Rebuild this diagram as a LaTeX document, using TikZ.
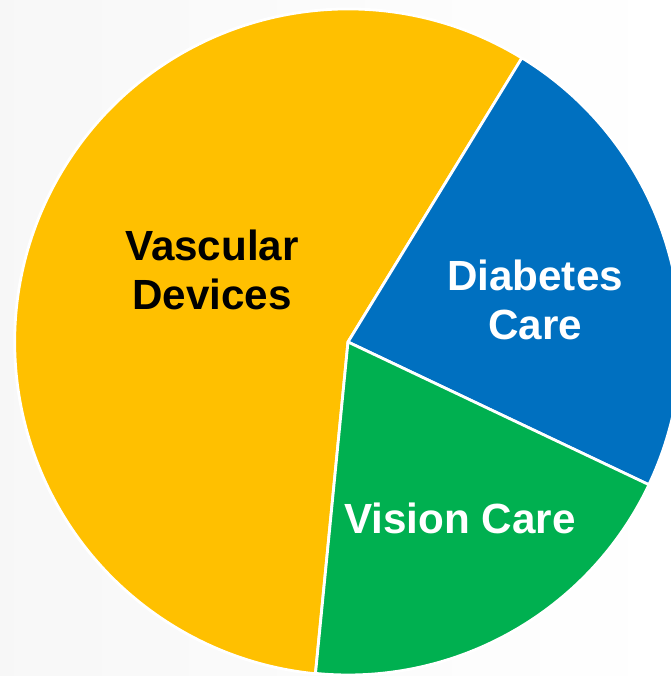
\documentclass[tikz,border=0pt]{standalone}
\usepackage{fontspec}
\setmainfont{Liberation Sans}
\definecolor{vascyellow}{HTML}{FFC000}
\definecolor{diabblue}{HTML}{0070C0}
\definecolor{visgreen}{HTML}{00B050}
\tikzset{
  slice/.style={draw=white, line width=0.8pt, line join=round},
  lbl/.style={font=\bfseries\fontsize{12}{14}\selectfont, align=center}
}
\begin{document}
\begin{tikzpicture}[x=0.01cm, y=0.01cm]
                \useasboundingbox (0,0) rectangle (671,676);
                \shade[left color=black!3, right color=white] (0,0) rectangle (671,676);
                \clip (0,0) rectangle (671,676);
                \coordinate (c) at (348,334);
                \filldraw[slice, fill=vascyellow] (c) -- ++(58.5:333) arc (58.5:264.4:3.33cm) -- cycle;
                \filldraw[slice, fill=diabblue] (c) -- ++(-25.4:333) arc (-25.4:58.5:3.33cm) -- cycle;
                \filldraw[slice, fill=visgreen] (c) -- ++(-95.6:333) arc (-95.6:-25.4:3.33cm) -- cycle;
                \node[lbl, text=black] (vasc) at (212,406) {Vascular\\Devices};
                \node[lbl, text=white] (diab) at (535,376) {Diabetes\\Care};
                \node[lbl, text=white] (vis) at (460,158) {Vision Care};
            \end{tikzpicture}
\end{document}
